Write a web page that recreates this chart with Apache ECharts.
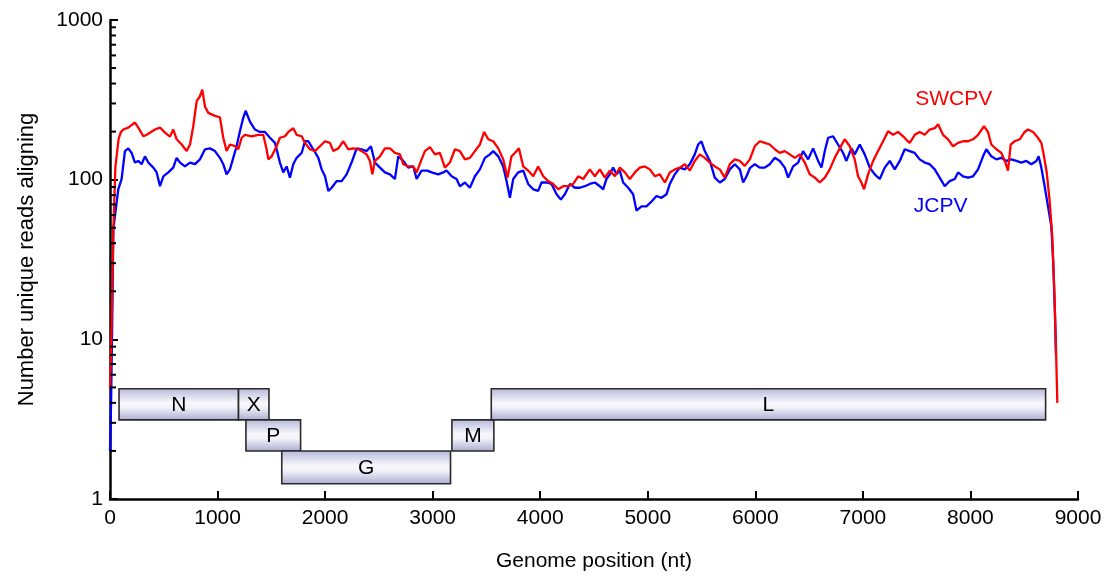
<!DOCTYPE html>
<html>
<head>
<meta charset="utf-8">
<script src="https://cdn.jsdelivr.net/npm/echarts@6/dist/echarts.min.js"></script>
<style>
  html, body { margin: 0; padding: 0; background: #fff; }
  #chart { width: 1118px; height: 577px; }
</style>
</head>
<body>
<div id="chart"></div>
<script>
// ---- Data ----
const swcpvPos = [0,15,30,50,80,100,124,170,232,263,310,341,418,465,511,558,588,620,666,713,744,774,806,836,858,883,914,976,1022,1053,1084,1115,1162,1193,1224,1255,1317,1379,1425,1456,1472,1503,1549,1580,1627,1658,1704,1735,1782,1813,1859,1906,1952,1999,2045,2076,2123,2169,2216,2262,2308,2339,2386,2417,2439,2463,2510,2556,2603,2649,2696,2727,2773,2820,2851,2897,2928,2975,3021,3067,3114,3160,3207,3253,3300,3346,3393,3439,3479,3517,3563,3610,3656,3696,3733,3764,3802,3842,3888,3935,3981,4028,4074,4121,4167,4214,4260,4307,4353,4400,4461,4508,4554,4601,4647,4694,4740,4787,4833,4880,4926,4973,5019,5066,5112,5159,5205,5252,5298,5345,5391,5437,5484,5530,5577,5623,5670,5716,5763,5809,5856,5902,5949,5995,6041,6088,6134,6181,6227,6274,6320,6367,6413,6460,6506,6553,6599,6646,6692,6738,6785,6831,6878,6924,6955,6986,7011,7048,7095,7141,7188,7234,7281,7327,7374,7410,7435,7482,7528,7575,7621,7668,7699,7745,7792,7838,7885,7931,7978,8024,8071,8126,8163,8194,8241,8287,8325,8349,8374,8411,8458,8504,8535,8582,8628,8659,8684,8710,8735,8760,8780,8795,8808];
const swcpvVal = [5,12,45,120,180,198,206,212,228,212,187,191,206,212,197,186,206,179,166,151,166,216,310,333,366,287,262,251,246,183,151,166,162,155,183,191,187,191,191,155,134,140,162,183,187,199,210,191,187,170,155,151,162,174,170,151,157,174,155,157,155,151,144,131,108,131,140,157,157,147,144,125,121,121,111,134,151,160,144,147,119,128,155,151,134,137,151,166,199,179,174,157,134,103,140,147,157,121,114,105,121,105,98,94,87,91,91,94,105,101,116,105,116,103,114,105,119,111,101,111,119,121,116,105,108,96,111,116,119,125,114,131,144,137,128,121,116,103,125,134,131,122,134,162,174,170,166,155,147,151,144,137,144,128,108,103,96,103,116,137,157,179,162,134,105,96,87,108,131,151,174,201,191,199,187,176,170,191,199,191,206,210,222,191,179,162,170,174,174,179,191,216,199,166,155,147,128,114,166,174,179,199,206,199,183,170,140,110,75,45,20,9,4];

const jcpvPos = [0,10,20,31,77,108,139,170,201,232,263,294,325,356,403,434,465,496,542,588,620,651,697,744,790,836,883,929,976,1022,1053,1084,1115,1146,1177,1208,1239,1261,1301,1348,1394,1441,1487,1534,1580,1611,1642,1673,1704,1735,1782,1813,1844,1890,1937,1968,1999,2030,2061,2107,2154,2200,2246,2293,2339,2386,2426,2463,2510,2556,2603,2649,2680,2727,2773,2820,2851,2897,2950,2990,3052,3098,3129,3176,3222,3253,3300,3346,3393,3439,3486,3532,3563,3610,3656,3687,3718,3749,3795,3842,3888,3935,3981,4012,4059,4105,4152,4192,4229,4276,4322,4369,4415,4461,4508,4554,4585,4616,4647,4678,4709,4740,4771,4818,4864,4895,4942,4988,5035,5081,5128,5174,5205,5251,5298,5344,5391,5437,5468,5499,5530,5577,5623,5670,5716,5763,5809,5856,5887,5918,5949,5995,6041,6088,6134,6181,6227,6274,6305,6351,6398,6444,6491,6537,6584,6615,6646,6677,6723,6769,6816,6847,6893,6924,6971,7017,7064,7110,7157,7203,7250,7296,7343,7389,7435,7482,7528,7575,7621,7668,7714,7761,7807,7854,7885,7931,7978,8024,8071,8117,8148,8194,8241,8287,8334,8380,8427,8473,8520,8566,8613,8634,8659,8690,8721,8752,8770,8785,8795];
const jcpvVal = [2,4,12,49,87,101,151,157,147,128,131,125,140,128,119,111,91,105,111,119,137,128,121,128,125,134,155,157,151,137,125,108,116,137,162,201,244,270,231,206,199,199,183,170,128,111,121,103,125,137,147,174,174,155,137,116,105,85,89,98,98,108,128,157,155,151,162,128,119,111,108,101,140,131,119,121,101,114,114,111,108,111,114,105,101,91,96,89,105,116,137,144,151,140,121,98,77,101,111,114,94,87,85,96,96,94,81,75,81,94,89,89,91,94,96,91,87,101,108,119,108,114,96,89,81,64,68,68,73,79,77,81,94,108,119,116,125,144,166,174,151,131,103,96,101,116,125,116,96,105,118,125,119,119,125,137,131,119,103,121,128,151,134,157,131,119,151,183,187,166,147,131,157,144,166,144,119,108,101,119,131,116,131,155,151,147,134,128,125,116,103,91,98,101,111,105,103,105,116,140,155,140,134,137,131,134,131,128,131,125,131,140,119,91,68,51,30,15,8];

// Gene annotation boxes
const geneNames = ['N', 'X', 'P', 'G', 'M', 'L'];
const geneStart = [84, 1195, 1264, 1597, 3179, 3545];
const geneEnd   = [1195, 1478, 1772, 3166, 3569, 8699];
const geneRow   = [0, 0, 1, 2, 1, 0];
const rowBounds = [4.9, 3.13, 2.0, 1.245];   // y-values (log axis) bounding the three rows

// Tick labels / axis ranges
const xTicks = [0, 1000, 2000, 3000, 4000, 5000, 6000, 7000, 8000, 9000];
const yMajor = [1, 10, 100, 1000];
const yMinor = [2,3,4,5,6,7,8,9,20,30,40,50,60,70,80,90,200,300,400,500,600,700,800,900];

// Series name labels
const seriesNames = ['SWCPV', 'JCPV'];
const seriesLabelPos = [7844, 7723];
const seriesLabelVal = [317, 68];

const RED = '#ff0000';
const BLUE = '#0000ff';
const FONT = 'Liberation Sans, Arial, Helvetica, sans-serif';

const chart = echarts.init(document.getElementById('chart'), null, { renderer: 'canvas' });

const swcpvData = swcpvPos.map((p, i) => [p, swcpvVal[i]]);
const jcpvData = jcpvPos.map((p, i) => [p, jcpvVal[i]]);
const geneData = geneNames.map((n, i) => [geneStart[i], geneEnd[i], rowBounds[geneRow[i]], rowBounds[geneRow[i] + 1]]);

const boxFill = new echarts.graphic.LinearGradient(0, 0, 0, 1, [
  { offset: 0, color: '#b6b6da' },
  { offset: 0.45, color: '#f7f7fc' },
  { offset: 0.6, color: '#f2f2f9' },
  { offset: 1, color: '#a9a9d0' }
]);

const option = {
  animation: false,
  backgroundColor: '#ffffff',
  grid: { left: 110, right: 40, top: 20, bottom: 76, containLabel: false },
  xAxis: {
    type: 'value',
    min: xTicks[0],
    max: xTicks[xTicks.length - 1],
    interval: 1000,
    name: 'Genome position (nt)',
    nameLocation: 'middle',
    nameGap: 52,
    nameTextStyle: { fontSize: 21, color: '#000', fontFamily: FONT },
    axisLine: { lineStyle: { color: '#000', width: 2.5 } },
    axisTick: { inside: true, length: 8, lineStyle: { color: '#000', width: 2 } },
    axisLabel: { fontSize: 21, color: '#000', fontFamily: FONT, margin: 9, formatter: v => String(Math.round(v)) },
    splitLine: { show: false }
  },
  yAxis: {
    type: 'log',
    logBase: 10,
    min: yMajor[0],
    max: yMajor[yMajor.length - 1],
    name: 'Number unique reads aligning',
    nameLocation: 'middle',
    nameGap: 72,
    nameTextStyle: { fontSize: 22, color: '#000', fontFamily: FONT },
    axisLine: { show: true, lineStyle: { color: '#000', width: 2.5 } },
    axisTick: { inside: true, length: 8, lineStyle: { color: '#000', width: 2 } },
    axisLabel: { fontSize: 21, color: '#000', fontFamily: FONT, margin: 7, formatter: v => String(Math.round(v)) },
    splitLine: { show: false }
  },
  series: [
    {
      name: 'JCPV',
      type: 'line',
      data: jcpvData,
      showSymbol: false,
      lineStyle: { color: BLUE, width: 2.3 },
      itemStyle: { color: BLUE },
      z: 3
    },
    {
      name: 'SWCPV',
      type: 'line',
      data: swcpvData,
      showSymbol: false,
      lineStyle: { color: RED, width: 2.3 },
      itemStyle: { color: RED },
      z: 4
    },
    {
      name: 'genes',
      type: 'custom',
      data: geneData,
      encode: { x: [0, 1], y: [2, 3] },
      z: 5,
      renderItem: function (params, api) {
        const p1 = api.coord([api.value(0), api.value(2)]);
        const p2 = api.coord([api.value(1), api.value(3)]);
        const x = p1[0], y = p1[1], w = p2[0] - p1[0], h = p2[1] - p1[1];
        return {
          type: 'group',
          children: [
            { type: 'rect', shape: { x: x, y: y, width: w, height: h },
              style: { fill: boxFill, stroke: '#2a2a2a', lineWidth: 1.6 } },
            { type: 'text', x: x + w / 2, y: y + h / 2 + 1,
              style: { text: geneNames[params.dataIndex], fill: '#000', fontSize: 21, fontFamily: FONT,
                       textAlign: 'center', textVerticalAlign: 'middle' } }
          ]
        };
      }
    },
    {
      name: 'yMinorTicks',
      type: 'custom',
      data: yMinor.map(v => [0, v]),
      encode: { x: 0, y: 1 },
      z: 6,
      silent: true,
      renderItem: function (params, api) {
        const p = api.coord([0, api.value(1)]);
        return { type: 'line', shape: { x1: p[0], y1: p[1], x2: p[0] + 6, y2: p[1] },
                 style: { stroke: '#000', lineWidth: 2 } };
      }
    },
    {
      name: 'seriesLabels',
      type: 'custom',
      data: seriesNames.map((n, i) => [seriesLabelPos[i], seriesLabelVal[i]]),
      encode: { x: 0, y: 1 },
      z: 7,
      silent: true,
      renderItem: function (params, api) {
        const p = api.coord([api.value(0), api.value(1)]);
        return { type: 'text', x: p[0], y: p[1],
                 style: { text: seriesNames[params.dataIndex], fill: params.dataIndex === 0 ? RED : BLUE,
                          fontSize: 21, fontFamily: FONT, textAlign: 'center', textVerticalAlign: 'middle' } };
      }
    }
  ]
};

chart.setOption(option);
</script>
</body>
</html>
